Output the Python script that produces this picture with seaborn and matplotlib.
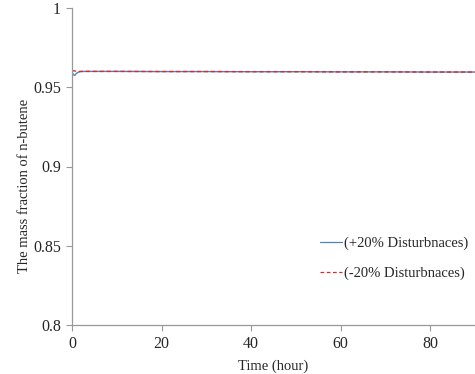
import matplotlib
matplotlib.use("Agg")
import matplotlib.pyplot as plt
import seaborn as sns
import pandas as pd

sns.set_theme(style="white")
plt.rcParams['font.family'] = ['Liberation Serif', 'DejaVu Serif']

time_h = [0, 0.3, 0.6, 1.0, 1.5, 2, 3, 5, 10, 20, 30, 40, 50, 60, 70, 80, 90]
plus20 = [0.9598, 0.9578, 0.9575, 0.9588, 0.9596, 0.9599, 0.9600, 0.9600, 0.9600, 0.9599, 0.9599, 0.9598, 0.9598, 0.9597, 0.9597, 0.9596, 0.9596]
minus20 = [0.9602, 0.9604, 0.9603, 0.9601, 0.9600, 0.9600, 0.9600, 0.9600, 0.9600, 0.9599, 0.9599, 0.9598, 0.9598, 0.9597, 0.9597, 0.9596, 0.9596]
labels = ["(+20% Disturbnaces)", "(-20% Disturbnaces)"]

df = pd.DataFrame({
    "t": time_h * 2,
    "y": plus20 + minus20,
    "s": [labels[0]] * len(time_h) + [labels[1]] * len(time_h),
})

fig = plt.figure(figsize=(4.75, 3.74), dpi=100)
ax = fig.add_axes([72/475, 1 - 325/374, (475 - 72)/475, (325 - 8)/374])

sns.lineplot(data=df, x="t", y="y", hue="s", style="s",
             palette={labels[0]: "#4f81bd", labels[1]: "#e0282a"},
             dashes={labels[0]: "", labels[1]: (3, 2)},
             linewidth=1.0, ax=ax, legend=True)

ax.set_xlim(0, 90)
ax.set_ylim(0.8, 1.0)
ax.set_xticks([0, 20, 40, 60, 80])
ax.set_yticks([0.8, 0.85, 0.9, 0.95, 1.0])
ax.set_yticklabels(["0.8", "0.85", "0.9", "0.95", "1"])
ax.tick_params(axis="both", labelsize=11.5, direction="out", length=4, color="#999999",
               width=0.8, bottom=True, left=True, pad=4)
for side in ["top", "right"]:
    ax.spines[side].set_visible(False)
for side in ["left", "bottom"]:
    ax.spines[side].set_color("#999999")
    ax.spines[side].set_linewidth(0.9)

ax.set_xlabel("Time (hour)", fontsize=10.5, labelpad=5)
ax.set_ylabel("The mass fraction of n-butene", fontsize=10.5)
ax.yaxis.set_label_coords(-0.102, 0.44)

leg = ax.legend(loc="center right", bbox_to_anchor=(1.017, 0.21), frameon=False,
                fontsize=10.5, handlelength=1.5, handletextpad=0.2, labelspacing=1.1)
for h in leg.get_lines():
    h.set_linewidth(0.9)

fig.savefig("out.png", dpi=100)
